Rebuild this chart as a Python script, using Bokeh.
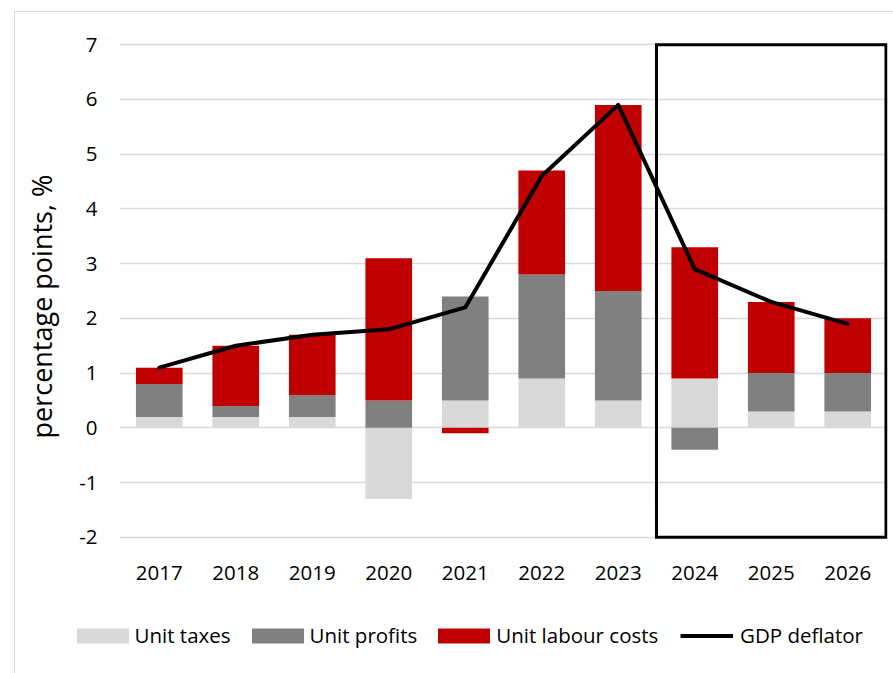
from bokeh.plotting import figure
from bokeh.models import (ColumnDataSource, FixedTicker, Range1d, Legend, LegendItem,
                          FactorRange, Title)
from bokeh.embed import file_html
from bokeh.resources import INLINE

years = ["2017", "2018", "2019", "2020", "2021", "2022", "2023", "2024", "2025", "2026"]
unit_taxes = [0.2, 0.2, 0.2, -1.3, 0.5, 0.9, 0.5, 0.9, 0.3, 0.3]
unit_profits = [0.6, 0.2, 0.4, 0.5, 1.9, 1.9, 2.0, -0.4, 0.7, 0.7]
unit_labour = [0.3, 1.1, 1.1, 2.6, -0.1, 1.9, 3.4, 2.4, 1.3, 1.0]
gdp_deflator = [1.1, 1.5, 1.7, 1.8, 2.2, 4.6, 5.9, 2.9, 2.3, 1.9]
y_ticks = [-2, -1, 0, 1, 2, 3, 4, 5, 6, 7]
y_tick_labels = ["-2", "-1", "0", "1", "2", "3", "4", "5", "6", "7"]
forecast_years = ["2024", "2025", "2026"]

series = [("Unit taxes", unit_taxes, "#d9d9d9"),
          ("Unit profits", unit_profits, "#808080"),
          ("Unit labour costs", unit_labour, "#c00000")]
line_name = "GDP deflator"
y_title = "percentage points, %"

FONT = "Open Sans"
W, H_MAIN, H_LEG = 893, 610, 63

frame_css = """
:host { position: relative; }
:host::after {
  content: ""; position: absolute; left: 14px; top: 11px; right: -20px; bottom: -120px;
  border-left: 1.5px solid #d9d9d9; border-top: 1.5px solid #d9d9d9;
  pointer-events: none; z-index: 5;
}
"""

p = figure(x_range=FactorRange(*years, range_padding=0.02, range_padding_units="absolute"),
           y_range=Range1d(y_ticks[0] - 0.04, y_ticks[-1] + 0.04),
           width=W, height=H_MAIN, output_backend="svg", toolbar_location=None,
           min_border_left=119, min_border_right=6, min_border_top=42,
           min_border_bottom=H_MAIN - 539)
p.stylesheets = [frame_css]
p.outline_line_color = None
p.background_fill_color = "white"
p.border_fill_color = "white"

pos = [0.0] * len(years)
neg = [0.0] * len(years)
for name, vals, color in series:
    bottoms, tops = [], []
    for i, v in enumerate(vals):
        if v >= 0:
            bottoms.append(pos[i]); tops.append(pos[i] + v); pos[i] += v
        else:
            bottoms.append(neg[i]); tops.append(neg[i] + v); neg[i] += v
    src = ColumnDataSource(dict(x=years, bottom=bottoms, top=tops))
    p.vbar(x="x", bottom="bottom", top="top", width=0.61, source=src,
           fill_color=color, line_color=None)

lsrc = ColumnDataSource(dict(x=years, y=gdp_deflator))
p.line(x="x", y="y", source=lsrc, line_color="black", line_width=4,
       line_join="round", line_cap="round")

# forecast box (synthetic categorical coordinates)
box_left = years.index(forecast_years[0])
box_right = years.index(forecast_years[-1]) + 1
p.quad(left=[box_left], right=[box_right], bottom=[y_ticks[0]], top=[y_ticks[-1]],
       fill_color=None, line_color="black", line_width=3, line_join="miter")

p.yaxis.ticker = FixedTicker(ticks=y_ticks)
p.yaxis.major_label_overrides = {t: l for t, l in zip(y_ticks, y_tick_labels)}
p.xgrid.grid_line_color = None
p.ygrid.grid_line_color = "#d9d9d9"
p.ygrid.grid_line_width = 1.5
for ax in (p.xaxis, p.yaxis):
    ax.axis_line_color = None
    ax.major_tick_line_color = None
    ax.minor_tick_line_color = None
    ax.major_tick_out = 0
    ax.major_tick_in = 0
    ax.minor_tick_out = 0
    ax.major_label_text_font = FONT
    ax.major_label_text_font_size = "20.5px"
    ax.major_label_text_color = "black"
p.xaxis.major_label_standoff = 26
p.yaxis.major_label_standoff = 22

ytitle = Title(text=y_title, align="left", offset=101,
               text_font=FONT, text_font_size="27px", text_font_style="normal",
               text_color="black", standoff=34)
p.add_layout(ytitle, "left")

# legend strip: swatch renderers are zero-size, they only carry the styles
q = figure(width=W, height=H_LEG, output_backend="svg", toolbar_location=None,
           x_range=Range1d(0, 1), y_range=Range1d(0, 1),
           min_border=0, min_border_left=0, min_border_right=0,
           min_border_top=0, min_border_bottom=0)
q.axis.visible = False
q.grid.visible = False
q.outline_line_color = None
q.background_fill_alpha = 0
q.border_fill_alpha = 0

bar_items = []
for name, vals, color in series:
    r = q.vbar(x=[0], bottom=[0], top=[0], width=0, fill_color=color, line_color=None)
    bar_items.append(LegendItem(label=name, renderers=[r]))
rl = q.line(x=[0], y=[0], line_color="black", line_width=4)

common = dict(orientation="horizontal", padding=0, margin=0, border_line_color=None,
              background_fill_alpha=0, label_text_font=FONT, label_text_font_size="20.5px",
              label_text_color="black", label_height=15)
leg_bars = Legend(items=bar_items, location=(69.5, 24), glyph_width=65, glyph_height=19,
                  label_standoff=0, spacing=14, **common)
leg_line = Legend(items=[LegendItem(label=line_name, renderers=[rl])], location=(680, 24),
                  glyph_width=53, glyph_height=19, label_standoff=7, spacing=14, **common)
q.add_layout(leg_bars, "center")
q.add_layout(leg_line, "center")

open("out.html", "w").write(file_html([p, q], INLINE))
